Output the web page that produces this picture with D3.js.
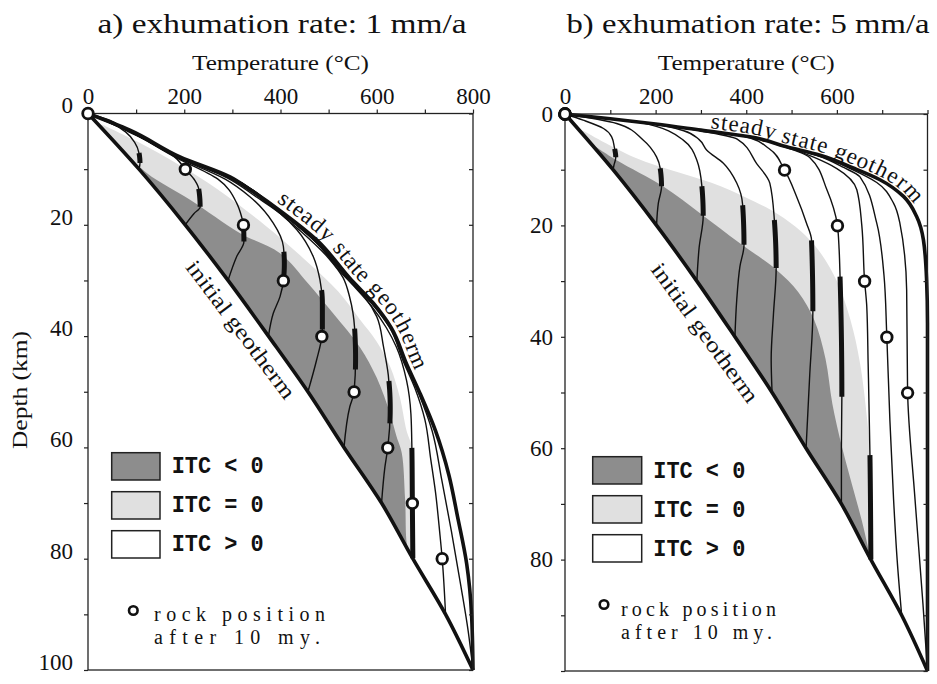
<!DOCTYPE html>
<html>
<head>
<meta charset="utf-8">
<script src="https://cdnjs.cloudflare.com/ajax/libs/d3/7.8.5/d3.min.js"></script>
<style>
body { margin: 0; background: #fff; }
svg text { font-family: "Liberation Serif", "Times New Roman", serif; fill: #111; }
svg text.itc { font-family: "Liberation Mono", monospace; font-weight: bold; }
</style>
</head>
<body>
<div id="chart"></div>
<script>
// values: temperature in C, depth in km

var tempTicks = [0, 100, 200, 300, 400, 500, 600, 700, 800];
var depthTicks = [0, 10, 20, 30, 40, 50, 60, 70, 80, 90, 100];
var tempLabelsA = [0, 200, 400, 600, 800];
var tempLabelsB = [0, 200, 400, 600];
var depthLabelsA = [0, 20, 40, 60, 80, 100];
var depthLabelsB = [0, 20, 40, 60, 80];

// initial geotherm (same in both panels)
var initialDepth = [0, 10, 20, 30, 40, 50, 60, 70, 80, 90, 100];
var initialTemp = [0, 106, 202, 291, 375, 457, 532, 610, 675, 743, 800];

// steady state geotherms [T, z]
var steadyA = [[0,0],[87,3],[191,7.8],[295,11.4],[337,13.7],[406,17.9],[475,22.7],[544,29.6],[593,34.1],
    [630,38.5],[662,45],[690,50.3],[722,57],[750,65],[768,72.5],[787,81],[797,90],[800,100]];
var steadyB = [[0,0],[100,0.85],[200,1.8],[300,2.9],[408,4.1],[489,5.9],[563,7.4],[636,9.7],[695,11.8],
    [747,14.8],[776,18.4],[791,22.6],[798,29.8],[800,37.5],[800,100]];

// P-T paths of rocks starting at 10..100 km, surface first
var pathsA = [
    [[0,0],[45,1.6],[78,3.3],[97,5.2],[106,7.1],[108,8.9],[106,10]],
    [[0,0],[45,1.2],[78,3],[146,5.8],[185,8.2],[202,10],[222,12],[230,13.5],[233,16.8],[220,18],[202,20]],
    [[0,0],[80,3],[180,7.8],[270,11.8],[309,16.1],[319,18.5],[323,20],[324,23],[309,25.7],[291,30]],
    [[0,0],[81,3],[183,7.8],[285,11.8],[337,15],[385,19.7],[406,23.9],[408,27],[406,30],[399,32.9],[385,35.9],[375,40]],
    [[0,0],[82,3],[185,7.8],[290,11.6],[350,15],[400,18],[434,20.9],[468,25.7],[482,29.9],[487,34],[487,38.5],[486,40],[475,44.3],[457,50]],
    [[0,0],[83,3],[186,7.8],[292,11.5],[370,16],[440,21],[500,26],[530,29.5],[544,33.1],[554,38.6],[556,44],[553,50],[544,52.7],[532,60]],
    [[0,0],[84,3],[187,7.8],[293,11.5],[400,17.8],[470,22.8],[530,29],[575,33],[600,36.5],[614,41.9],[624,47],[628,53],[623,60],[617,63.5],[610,70]],
    [[0,0],[85,3],[188,7.8],[294,11.4],[403,18],[472,23],[540,29.8],[588,34.5],[620,38.5],[641,42],[662,48],[671,54],[673,60],[674,70],[675,80]],
    [[0,0],[86,3],[189,7.8],[294,11.4],[404,18],[473,23],[542,29.7],[590,34.2],[627,38.5],[655,44.5],[680,49.5],[700,55],[712,62],[722,68],[731,75.4],[736,80],[743,90]],
    [[0,0],[86,3],[190,7.8],[295,11.4],[405,18],[474,23],[543,29.6],[592,34.1],[629,38.5],[660,45],[688,50.5],[715,57],[735,65.8],[755,75],[775,85],[790,93],[800,100]]
];
var thickA = [[7.1,8.9],[13.5,16.8],[20.8,23],[24.8,29.3],[31.7,38.9],[38.6,46.1],[48,55.7],[60,80],null,null];
var circleA = [0, 10, 20, 30, 40, 50, 60, 70, 80, null];

var pathsB = [
    [[0,0],[40,1.1],[85,2.6],[103,4.1],[109,6],[112,7.8],[108,9.2],[106,10]],
    [[0,0],[114,1.7],[173,4.7],[202,7.7],[210,9.7],[213,13],[206,16],[202,20]],
    [[0,0],[170,1.6],[261,4.7],[291,8.3],[302,12.9],[305,18.3],[296,24],[291,30]],
    [[0,0],[180,1.6],[262,3],[296,4.6],[313,6.5],[349,8.8],[379,12.4],[392,16.3],[395,23.5],[386,27.4],[379,33.4],[375,40]],
    [[0,0],[190,1.7],[290,2.9],[380,4.5],[423,8.9],[452,12.4],[462,19],[466,27.7],[460,36],[455,44],[457,50]],
    [[0,0],[195,1.75],[298,2.9],[395,4],[450,6.2],[484,10],[511,14.8],[533,19.6],[544,22.6],[547,35.5],[540,47],[532,60]],
    [[0,0],[198,1.8],[300,2.9],[405,4.1],[480,5.8],[540,7.8],[578,13.6],[601,19.9],[605,24.4],[607,29.2],[611,50.8],[610,60],[610,70]],
    [[0,0],[199,1.8],[300,2.9],[407,4.1],[488,5.9],[550,7.8],[600,9.8],[644,13.6],[655,20],[661,29.8],[666,34.6],[669,44.8],[673,61.2],[675,80]],
    [[0,0],[200,1.8],[300,2.9],[408,4.1],[489,5.9],[558,7.5],[615,9.6],[651,11.3],[688,19.6],[704,29],[710,39.5],[717,55],[725,69],[733,80],[743,90]],
    [[0,0],[200,1.8],[300,2.9],[408,4.1],[489,5.9],[562,7.5],[632,9.9],[688,12.3],[725,16],[739,19.6],[754,31.6],[756,49.7],[772,68.7],[790,88],[800,100]]
];
var thickB = [[6.2,7.8],[9.7,13],[12.9,18.3],[16.3,23.5],[19,27.7],[22.6,35.5],[29.2,50.8],[61.2,80],null,null];
var circleB = [0, 0, 0, 0, 0, 10, 20, 30, 40, 50];

// edges of the shaded ITC zones [T, z]
var darkEdgeA = [[55,5],[122,10.7],[212,15.5],[316,21.5],[399,25.1],[457,30.5],[510,36],[565,42],[600,47.5],
    [628,54],[641,58],[652,61],[659,69.4],[664,78],[675,80]];
var lightEdgeA = [[30,2],[90,4.5],[165,8],[250,12.5],[330,17.5],[395,22],[460,27],[520,32],[565,37],[600,41],
    [628,45.5],[648,51],[662,57],[673,60],[674,70],[675,80]];
var darkEdgeB = [[70,6],[114,8.3],[217,13],[298,17.8],[386,23.2],[467,28],[515,32],[550,37],[575,44],[590,52],
    [612,60],[635,67],[655,73],[668,77.5],[675,80]];
var lightEdgeB = [[40,3],[151,7.7],[255,10.6],[345,13],[420,15.8],[470,18],[520,21],[560,24.5],[600,30],[630,37],
    [651,44.7],[667,55],[673,61.2],[674,70],[675,80]];

var legendLabels = ["ITC < 0", "ITC = 0", "ITC > 0"];
var darkGrey = "#8d8d8d", lightGrey = "#e0e0e0";
var serif = '"Liberation Serif", "Times New Roman", serif';

var svg = d3.select("#chart").append("svg")
    .attr("width", 937)
    .attr("height", 684);

var panels = [
    { id: "a", left: 88, right: 473, top: 113.5, bottom: 670,
      steady: steadyA, paths: pathsA, thick: thickA, circles: circleA, dark: darkEdgeA, light: lightEdgeA,
      tempLabels: tempLabelsA, depthLabels: depthLabelsA, labelShift: -8, labelPad: 11,
      title: "a) exhumation rate: 1 mm/a", titleX: 282, titleLen: 369,
      steadyStart: 385, steadyDy: -5, steadySpacing: 1, initPos: [235, 334], initAngle: 53.1,
      box: [111.7, 452.7, 48.3], itcX: 171.7, itcY: 473.3,
      rock: [133.3, 610.5, 154, 621, 644, 171, 166] },
    { id: "b", left: 565, right: 927.5, top: 114, bottom: 671,
      steady: steadyB, paths: pathsB, thick: thickB, circles: circleB, dark: darkEdgeB, light: lightEdgeB,
      tempLabels: tempLabelsB, depthLabels: depthLabelsB, labelShift: 0, labelPad: 8,
      title: "b) exhumation rate: 5 mm/a", titleX: 748, titleLen: 363,
      steadyStart: 318, steadyDy: -3, steadySpacing: 1.0, initPos: [699, 337], initAngle: 54,
      box: [592.7, 456.7, 49], itcX: 653.3, itcY: 478,
      rock: [604, 604.5, 621, 615.5, 638.5, 155, 151] }
];

panels.forEach(drawPanel);

function drawPanel(p) {
    var x = d3.scaleLinear().domain([0, 800]).range([p.left, p.right]);
    var y = d3.scaleLinear().domain([0, 100]).range([p.top, p.bottom]);
    var line = d3.line().x(d => x(d[0])).y(d => y(d[1])).curve(d3.curveMonotoneY);
    var edge = d3.line().x(d => x(d[0])).y(d => y(d[1])).curve(d3.curveCatmullRom);
    var initial = initialDepth.map((z, i) => [initialTemp[i], z]);
    var g = svg.append("g");

    // shading only on the hot side of the initial geotherm
    g.append("clipPath").attr("id", "clip-" + p.id)
        .append("path")
        .attr("d", line(initial) + "L" + x(800) + "," + y(0) + "Z");

    function region(pts) {
        var first = pts[0], last = pts[pts.length - 1];
        return edge(pts) + "L" + x(0) + "," + y(last[1]) + "L" + x(0) + "," + y(first[1]) + "Z";
    }
    var shade = g.append("g").attr("clip-path", "url(#clip-" + p.id + ")");
    shade.append("path").attr("d", region(p.light)).attr("fill", lightGrey);
    shade.append("path").attr("d", region(p.dark)).attr("fill", darkGrey);

    // rock paths, thick segments and positions after 10 my
    var rockDots = [];
    p.paths.forEach(function(pts, i) {
        var path = g.append("path")
            .attr("d", line(pts))
            .attr("fill", "none")
            .attr("stroke", "#111")
            .attr("stroke-width", 1.4);
        var node = path.node();
        var len = node.getTotalLength();
        var samples = d3.range(0, len, 0.5).map(l => node.getPointAtLength(l));
        samples.push(node.getPointAtLength(len));
        if (p.thick[i]) {
            var ya = y(p.thick[i][0]), yb = y(p.thick[i][1]);
            var seg = samples.filter(s => s.y >= ya && s.y <= yb);
            g.append("path")
                .attr("d", d3.line().x(s => s.x).y(s => s.y)(seg))
                .attr("fill", "none")
                .attr("stroke", "#111")
                .attr("stroke-width", 5);
        }
        if (p.circles[i] !== null) {
            var yc = y(p.circles[i]);
            rockDots.push(samples.find(s => s.y >= yc - 0.01));
        }
    });

    g.append("path")
        .attr("d", line(initial))
        .attr("fill", "none")
        .attr("stroke", "#111")
        .attr("stroke-width", 3.6);
    var steadyPath = g.append("path")
        .attr("id", "steady-" + p.id)
        .attr("d", line(p.steady))
        .attr("fill", "none")
        .attr("stroke", "#111")
        .attr("stroke-width", 3.6);

    // frame and axes
    g.append("rect")
        .attr("x", p.left).attr("y", p.top)
        .attr("width", p.right - p.left).attr("height", p.bottom - p.top)
        .attr("fill", "none").attr("stroke", "#222").attr("stroke-width", 1.3);

    var topAxis = g.append("g")
        .attr("transform", `translate(0, ${p.top})`)
        .call(d3.axisTop(x).tickValues(tempTicks).tickSize(4).tickPadding(6)
            .tickFormat(d => p.tempLabels.includes(d) ? d : ""));
    var leftAxis = g.append("g")
        .attr("transform", `translate(${p.left}, 0)`)
        .call(d3.axisLeft(y).tickValues(depthTicks).tickSize(4).tickPadding(p.labelPad)
            .tickFormat(d => p.depthLabels.includes(d) ? d : ""));
    leftAxis.selectAll("text").attr("y", p.labelShift);
    var rightAxis = g.append("g")
        .attr("transform", `translate(${p.right}, 0)`)
        .call(d3.axisRight(y).tickValues(depthTicks).tickSize(-4).tickFormat(""));
    [topAxis, leftAxis, rightAxis].forEach(function(a) {
        a.attr("font-family", null).attr("font-size", null);
        a.select(".domain").remove();
        a.selectAll("line").attr("stroke", "#222").attr("stroke-width", 1.2);
        a.selectAll("text")
            .style("font-family", serif)
            .style("font-size", "23px")
            .attr("fill", "#111");
    });

    // titles
    g.append("text")
        .attr("x", p.titleX - p.titleLen / 2).attr("y", 33)
        .attr("font-size", 28)
        .attr("textLength", p.titleLen).attr("lengthAdjust", "spacingAndGlyphs")
        .text(p.title);
    g.append("text")
        .attr("x", (p.left + p.right) / 2 - 88.5).attr("y", 70)
        .attr("font-size", 21)
        .attr("textLength", 177).attr("lengthAdjust", "spacingAndGlyphs")
        .text("Temperature (°C)");

    // curve labels
    var sNode = steadyPath.node();
    var sLen = sNode.getTotalLength();
    var startAt = d3.range(0, sLen, 1).find(l => sNode.getPointAtLength(l).x >= x(p.steadyStart));
    g.append("text")
        .attr("dy", p.steadyDy)
        .attr("font-size", 23)
        .attr("letter-spacing", p.steadySpacing)
        .append("textPath")
        .attr("href", "#steady-" + p.id)
        .attr("startOffset", startAt)
        .text("steady state geotherm");
    g.append("text")
        .attr("transform", `translate(${p.initPos[0]}, ${p.initPos[1]}) rotate(${p.initAngle})`)
        .attr("text-anchor", "middle")
        .attr("font-size", 22)
        .attr("textLength", 167).attr("lengthAdjust", "spacingAndGlyphs")
        .text("initial geotherm");

    // legend
    var fills = [darkGrey, lightGrey, "#fff"];
    legendLabels.forEach(function(lab, i) {
        g.append("rect")
            .attr("x", p.box[0]).attr("y", p.box[1] + i * 39)
            .attr("width", p.box[2]).attr("height", 27.3)
            .attr("fill", fills[i]).attr("stroke", "#222").attr("stroke-width", 1.5);
        g.append("text")
            .classed("itc", true)
            .attr("x", p.itcX).attr("y", p.itcY + i * 39)
            .attr("font-size", 23)
            .attr("textLength", 92).attr("lengthAdjust", "spacingAndGlyphs")
            .text(lab);
    });
    g.append("circle")
        .attr("cx", p.rock[0]).attr("cy", p.rock[1]).attr("r", 4.3)
        .attr("fill", "#fff").attr("stroke", "#111").attr("stroke-width", 2.6);
    g.append("text")
        .attr("x", p.rock[2]).attr("y", p.rock[3])
        .attr("font-size", 20)
        .attr("textLength", p.rock[5]).attr("lengthAdjust", "spacing")
        .text("rock position");
    g.append("text")
        .attr("x", p.rock[2]).attr("y", p.rock[4])
        .attr("font-size", 20)
        .attr("textLength", p.rock[6]).attr("lengthAdjust", "spacing")
        .text("after 10 my.");

    // rock positions after 10 my
    g.selectAll("circle.rock")
        .data(rockDots)
        .enter()
        .append("circle")
        .classed("rock", true)
        .attr("cx", d => d.x)
        .attr("cy", d => d.y)
        .attr("r", 5.3)
        .attr("fill", "#fff")
        .attr("stroke", "#111")
        .attr("stroke-width", 2.8);
}

// shared y-axis title
svg.append("text")
    .attr("transform", "translate(27, 390) rotate(-90)")
    .attr("text-anchor", "middle")
    .attr("font-size", 21)
    .attr("textLength", 118).attr("lengthAdjust", "spacingAndGlyphs")
    .text("Depth (km)");
</script>
</body>
</html>
